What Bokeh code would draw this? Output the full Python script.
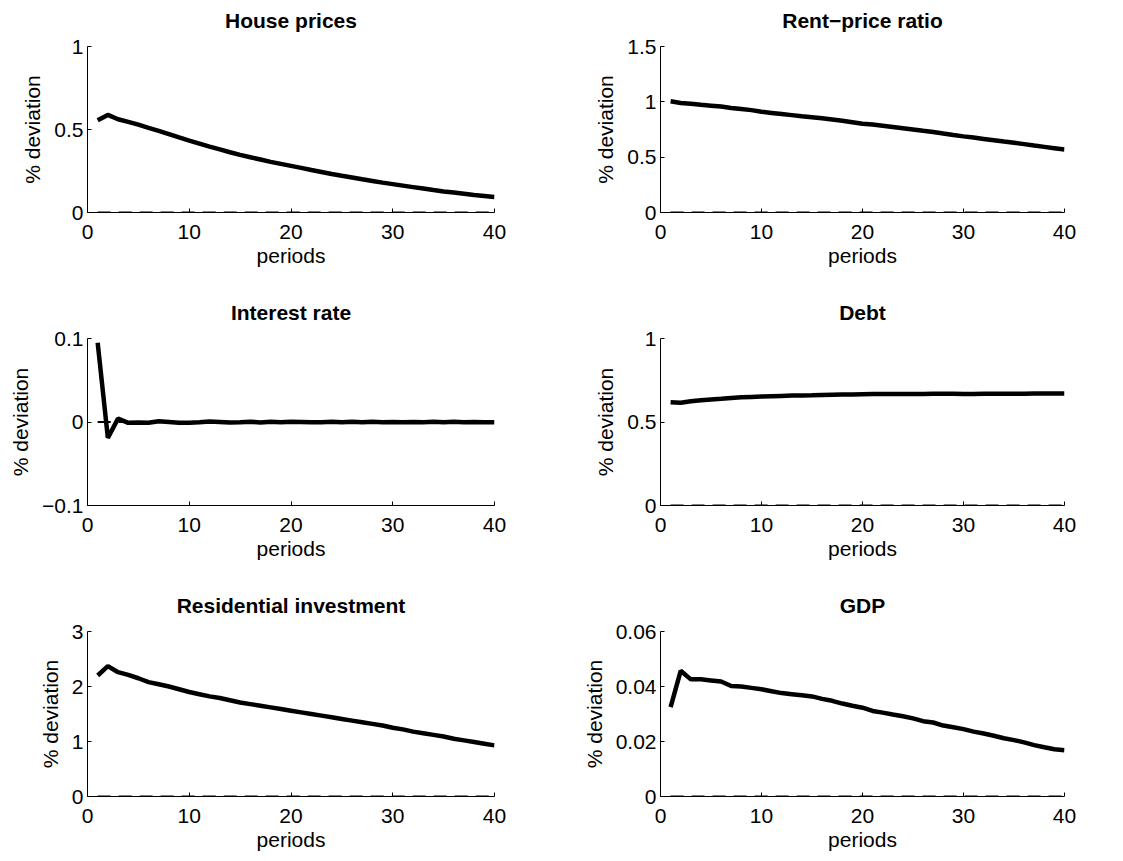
from bokeh.plotting import figure
from bokeh.models import Range1d, FixedTicker, LinearAxis
from bokeh.layouts import column, row
from bokeh.embed import file_html
from bokeh.resources import INLINE

periods = list(range(1, 41))

house_prices = [0.556, 0.588, 0.562, 0.546, 0.529, 0.510, 0.492, 0.472, 0.452, 0.433,
                0.415, 0.397, 0.380, 0.363, 0.347, 0.333, 0.319, 0.305, 0.293, 0.281,
                0.269, 0.256, 0.244, 0.232, 0.221, 0.211, 0.200, 0.190, 0.180, 0.171,
                0.162, 0.153, 0.144, 0.135, 0.127, 0.120, 0.113, 0.106, 0.100, 0.094]

rent_price = [1.005, 0.990, 0.982, 0.973, 0.965, 0.957, 0.945, 0.935, 0.925, 0.910,
              0.900, 0.890, 0.880, 0.870, 0.861, 0.851, 0.840, 0.829, 0.816, 0.802,
              0.795, 0.784, 0.773, 0.762, 0.750, 0.738, 0.727, 0.713, 0.700, 0.688,
              0.677, 0.665, 0.653, 0.641, 0.630, 0.618, 0.605, 0.593, 0.581, 0.569]

interest_rate = [0.095, -0.019, 0.004, -0.001, -0.0005, -0.001, 0.001, 0.0, -0.001, -0.0008,
                 -0.0003, 0.0005, 0.0, -0.0006, -0.0002, 0.0003, -0.0005, 0.0004, -0.0004, 0.0004,
                 0.0, -0.0004, -0.0003, 0.0002, -0.0003, 0.0004, -0.0003, 0.0003, -0.0002, 0.0,
                 -0.0004, 0.0, -0.0003, 0.0002, -0.0003, 0.0002, -0.0003, 0.0, -0.0002, -0.0004]

debt = [0.618, 0.615, 0.624, 0.630, 0.635, 0.639, 0.644, 0.648, 0.650, 0.652,
        0.654, 0.656, 0.658, 0.659, 0.660, 0.662, 0.663, 0.664, 0.665, 0.666,
        0.667, 0.667, 0.667, 0.668, 0.668, 0.668, 0.669, 0.669, 0.669, 0.668,
        0.668, 0.669, 0.669, 0.669, 0.669, 0.669, 0.670, 0.671, 0.671, 0.671]

res_investment = [2.20, 2.37, 2.26, 2.21, 2.15, 2.08, 2.04, 2.00, 1.95, 1.90,
                  1.86, 1.82, 1.79, 1.75, 1.71, 1.68, 1.65, 1.62, 1.59, 1.56,
                  1.53, 1.50, 1.47, 1.44, 1.41, 1.38, 1.35, 1.32, 1.29, 1.25,
                  1.22, 1.18, 1.15, 1.12, 1.09, 1.05, 1.02, 0.99, 0.96, 0.93]

gdp = [0.0325, 0.0457, 0.0426, 0.0426, 0.0422, 0.0418, 0.0402, 0.0400, 0.0395, 0.0390,
       0.0383, 0.0376, 0.0372, 0.0368, 0.0364, 0.0355, 0.0348, 0.0338, 0.0330, 0.0323,
       0.0311, 0.0305, 0.0298, 0.0292, 0.0284, 0.0274, 0.0269, 0.0258, 0.0252, 0.0245,
       0.0236, 0.0229, 0.0221, 0.0212, 0.0205, 0.0197, 0.0187, 0.0179, 0.0172, 0.0168]

x_ticks = [0, 10, 20, 30, 40]

panels = [
    ("House prices", house_prices, (0, 1), [0, 0.5, 1], ["0", "0.5", "1"]),
    ("Rent\u2212price ratio", rent_price, (0, 1.5), [0, 0.5, 1, 1.5], ["0", "0.5", "1", "1.5"]),
    ("Interest rate", interest_rate, (-0.1, 0.1), [-0.1, 0, 0.1], ["\u22120.1", "0", "0.1"]),
    ("Debt", debt, (0, 1), [0, 0.5, 1], ["0", "0.5", "1"]),
    ("Residential investment", res_investment, (0, 3), [0, 1, 2, 3], ["0", "1", "2", "3"]),
    ("GDP", gdp, (0, 0.06), [0, 0.02, 0.04, 0.06], ["0", "0.02", "0.04", "0.06"]),
]

FONT = "Liberation Sans"
# (top border, frame height, bottom border) per row
row_geom = [(46, 166, 80), (46, 167, 77), (49, 167, 55)]
# (left border, frame width, right border) per column
col_geom = [(87, 407, 74), (92, 404, 51)]

figs = []
for i, (title, ys, yr, yt, ylabels) in enumerate(panels):
    r, c = divmod(i, 2)
    top, fh, bottom = row_geom[r]
    left, fw, right = col_geom[c]
    p = figure(width=left + fw + right, height=top + fh + bottom,
               x_range=Range1d(0, 40), y_range=Range1d(*yr),
               output_backend="svg", toolbar_location=None,
               min_border_left=left, min_border_right=right,
               min_border_top=top, min_border_bottom=bottom)
    p.outline_line_color = None
    p.background_fill_color = "white"
    p.border_fill_color = "white"
    p.xgrid.visible = False
    p.ygrid.visible = False

    p.xaxis.ticker = FixedTicker(ticks=x_ticks)
    p.yaxis.ticker = FixedTicker(ticks=yt)
    p.yaxis.major_label_overrides = {t: lab for t, lab in zip(yt, ylabels)}
    p.xaxis.major_label_overrides = {t: str(t) for t in x_ticks}
    for ax in (p.xaxis, p.yaxis):
        ax.major_tick_in = 4
        ax.major_tick_out = 0
        ax.minor_tick_line_color = None
        ax.axis_line_color = "black"
        ax.major_tick_line_color = "black"
        ax.major_label_text_font = FONT
        ax.major_label_text_font_size = "21px"
        ax.major_label_text_color = "black"
        ax.axis_label_text_font = FONT
        ax.axis_label_text_font_size = "21px"
        ax.axis_label_text_font_style = "normal"
        ax.axis_label_text_color = "black"
    p.xaxis.axis_label = "periods"
    p.yaxis.axis_label = "% deviation"
    p.xaxis.major_label_standoff = 12
    p.yaxis.major_label_standoff = 4
    p.xaxis.axis_label_standoff = 2
    p.yaxis.axis_label_standoff = 7

    # panel title: an unticked axis above the frame carrying the title as its label
    tax = LinearAxis(ticker=FixedTicker(ticks=[]), axis_label=title,
                     axis_line_color=None, major_tick_line_color=None,
                     minor_tick_line_color=None, major_tick_in=0, major_tick_out=0,
                     minor_tick_in=0, minor_tick_out=0, major_label_standoff=0,
                     axis_label_standoff=15,
                     axis_label_text_font=FONT, axis_label_text_font_size="21px",
                     axis_label_text_font_style="bold", axis_label_text_color="black")
    p.add_layout(tax, "above")

    p.line(periods, [0] * len(periods), line_color="black", line_width=2,
           line_dash="13 8")
    p.line(periods, ys, line_color="black", line_width=4.5)
    figs.append(p)

layout = column(row(figs[0], figs[1]), row(figs[2], figs[3]), row(figs[4], figs[5]))

open("out.html", "w").write(file_html(layout, INLINE))
